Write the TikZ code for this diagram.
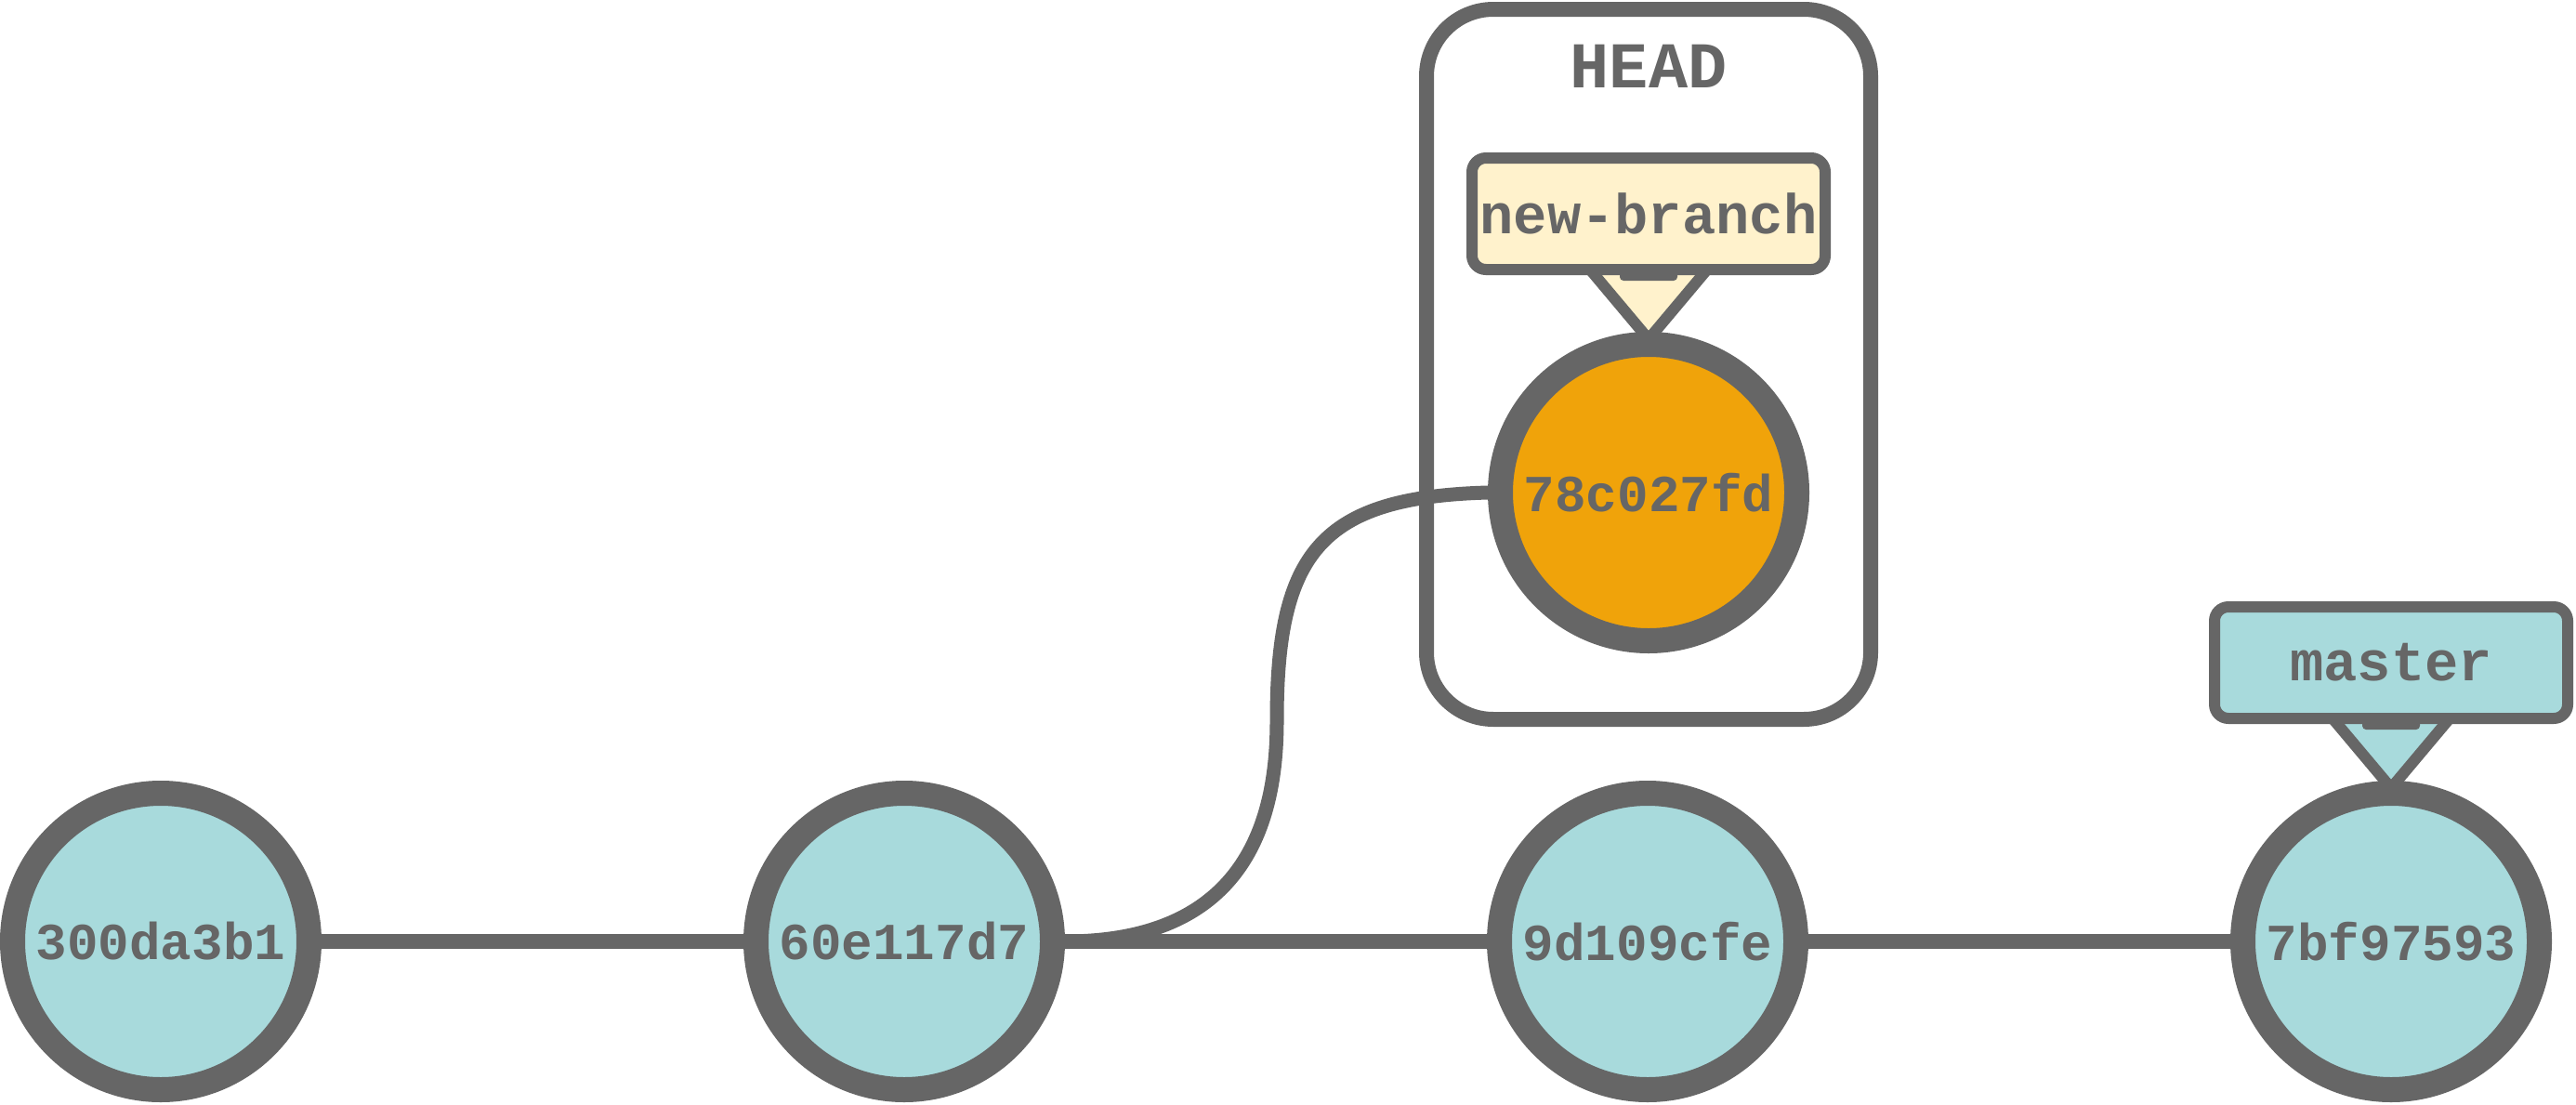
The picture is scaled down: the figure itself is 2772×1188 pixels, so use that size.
\documentclass[tikz,border=0pt]{standalone}
\usepackage{fontspec}
\setmonofont{Liberation Mono}
\usetikzlibrary{calc}
\definecolor{gitgray}{HTML}{666666}
\definecolor{gitteal}{HTML}{A8DADC}
\definecolor{gitorange}{HTML}{F0A30A}
\definecolor{gitcream}{HTML}{FFF2CC}
\pgfdeclarelayer{bg}
\pgfsetlayers{bg,main}
\begin{document}
\begin{tikzpicture}[x=0.1mm,y=-0.1mm,
  commit/.style={circle, draw=gitgray, line width=2.7mm, fill=gitteal, minimum size=31.9mm, inner sep=0pt, text=gitgray, font=\ttfamily\bfseries\fontsize{15.9pt}{18pt}\selectfont},
  current/.style={commit, fill=gitorange},
  edge/.style={draw=gitgray, line width=1.6mm},
  branchedge/.style={draw=gitgray, line width=1.5mm},
  branchbox/.style={rectangle, rounded corners=1.5mm, draw=gitgray, line width=1.2mm, minimum width=38mm, minimum height=12mm, inner sep=0pt, text=gitgray, font=\ttfamily\bfseries\fontsize{17.2pt}{20pt}\selectfont},
  pointer/.style={draw=gitgray, line width=1.2mm, line join=miter},
  tab/.style={fill=gitgray, rounded corners=0.4mm},
  headbox/.style={rectangle, rounded corners=7.2mm, draw=gitgray, line width=1.6mm, minimum width=47.8mm, minimum height=76.4mm, inner sep=0pt},
  headlabel/.style={text=gitgray, font=\ttfamily\bfseries\fontsize{20pt}{24pt}\selectfont, inner sep=0pt}
]
\useasboundingbox (0,0) rectangle (2772,1188);
\begin{pgfonlayer}{bg}
\fill[white] (0,0) rectangle (2772,1188);
\end{pgfonlayer}

% HEAD container
\node[headbox] (head) at (1774,392) {};
\node[headlabel] (headtext) at (1774,71) {HEAD};

% commits
\node[commit] (c1) at (173,1013) {300da3b1};
\node[commit] (c2) at (973,1013) {60e117d7};
\node[commit] (c3) at (1773,1013) {9d109cfe};
\node[commit] (c4) at (2573,1013) {7bf97593};
\node[current] (c5) at (1774,530) {78c027fd};

% connectors
\draw[edge] (c1.east) -- (c2.west);
\draw[edge] (c2.east) -- (c3.west);
\draw[edge] (c3.east) -- (c4.west);
\coordinate (bend) at (1374,775);
\draw[branchedge] (c2.east) .. controls (1346,1013) and (1374,875) .. (bend)
  .. controls (1374,595) and (1421,535) .. (c5.west);

% pointers (behind the commits)
\begin{pgfonlayer}{bg}
\draw[pointer, fill=gitcream] ($(c5.north)+(-63,-67)$) -- ($(c5.north)+(0,8)$) -- ($(c5.north)+(63,-67)$);
\draw[pointer, fill=gitteal] ($(c4.north)+(-63,-67)$) -- ($(c4.north)+(0,8)$) -- ($(c4.north)+(63,-67)$);
\end{pgfonlayer}

% new-branch label
\node[branchbox, fill=gitcream] (nb) at ($(c5.north)+(0,-127)$) {new-branch};
\fill[tab] ($(nb.south)+(-31,-4)$) rectangle ($(nb.south)+(31,6)$);

% master label
\node[branchbox, fill=gitteal] (ms) at ($(c4.north)+(0,-127)$) {master};
\fill[tab] ($(ms.south)+(-31,-4)$) rectangle ($(ms.south)+(31,6)$);
\end{tikzpicture}
\end{document}
